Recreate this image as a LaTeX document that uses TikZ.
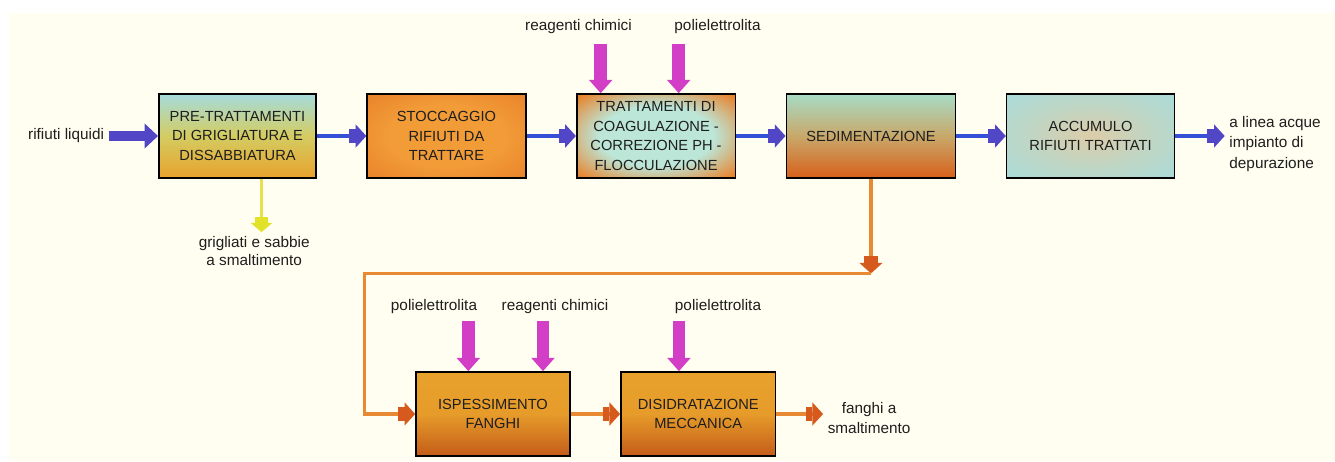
\documentclass[tikz,border=0pt]{standalone}
\usepackage{fontspec}
\setmainfont{Liberation Sans}
\usetikzlibrary{arrows.meta, positioning, calc}
\definecolor{PlantCream}{HTML}{FFFEF0}
\definecolor{PlantInk}{HTML}{1E1E1E}
\definecolor{PlantBlue}{HTML}{3350D6}
\definecolor{PlantBlueHead}{HTML}{5046C6}
\definecolor{PlantOrange}{HTML}{E88A34}
\definecolor{PlantRust}{HTML}{D65A1E}
\definecolor{PlantYellow}{HTML}{E4E050}
\definecolor{PlantYellowHead}{HTML}{E2E22A}
\definecolor{PlantMagenta}{HTML}{D23FC6}
\definecolor{PlantCyan}{HTML}{A6DCDC}
\definecolor{PlantPale}{HTML}{BCE6D8}
\definecolor{PlantMint}{HTML}{A8DCC6}
\definecolor{PlantTan}{HTML}{C8A86A}
\definecolor{PlantLime}{HTML}{D4CC62}
\definecolor{PlantGold}{HTML}{E8A22C}
\definecolor{PlantAmber}{HTML}{F29C38}
\definecolor{PlantTangerine}{HTML}{E9822A}
\definecolor{PlantBrick}{HTML}{D8601A}
\definecolor{PlantEmber}{HTML}{C95216}
\definecolor{PlantPeach}{HTML}{DCCCA8}
\definecolor{PlantSeafoam}{HTML}{C0D6C4}
\definecolor{PlantSienna}{HTML}{C45C1A}
\pgfdeclareradialshading{storeshade}{\pgfpointorigin}{color(0bp)=(PlantAmber); color(18bp)=(PlantAmber); color(36bp)=(PlantTangerine); color(48bp)=(PlantEmber); color(50bp)=(PlantEmber)}
\pgfdeclareradialshading{coagshade}{\pgfpointorigin}{color(0bp)=(PlantPale); color(18bp)=(PlantPale); color(34bp)=(PlantTangerine); color(46bp)=(PlantBrick); color(50bp)=(PlantBrick)}
\pgfdeclareradialshading{accumshade}{\pgfpointorigin}{color(0bp)=(PlantPeach); color(18bp)=(PlantSeafoam); color(38bp)=(PlantCyan); color(50bp)=(PlantCyan)}
\tikzset{
    % Base process box
    stage/.style={
        rectangle,
        draw=black,
        line width=1.2pt,
        minimum height=63pt,
        align=center,
        text=PlantInk,
        font=\fontsize{11}{14.6}\selectfont
    },
    % Pre-treatment box
    pretreat/.style={stage, top color=PlantCyan, bottom color=PlantGold, middle color=PlantLime},
    % Storage box
    storage/.style={stage, shade, shading=storeshade},
    % Coagulation box
    coagulate/.style={stage, shade, shading=coagshade},
    % Settling box
    settle/.style={stage, top color=PlantMint, bottom color=PlantBrick, middle color=PlantTan},
    % Treated waste box
    accum/.style={stage, shade, shading=accumshade},
    % Sludge box
    sludge/.style={stage, top color=PlantGold, bottom color=PlantSienna, middle color=PlantGold!90!PlantBrick},
    % Free text
    note/.style={
        align=center,
        text=PlantInk,
        font=\fontsize{11.5}{15.5}\selectfont
    },
    % Water flow
    flow/.style={
        line width=2.5pt,
        draw=PlantBlue,
        -{Rectangle[length=5pt,width=11pt,sep=0pt,color=PlantBlueHead]Triangle[length=8pt,width=17pt,color=PlantBlueHead]}
    },
    % Sludge flow
    sludgeflow/.style={
        line width=2.5pt,
        draw=PlantOrange,
        -{Rectangle[length=5pt,width=11pt,sep=0pt,color=PlantRust]Triangle[length=8pt,width=17pt,color=PlantRust]}
    },
    % Screenings out
    waste/.style={
        line width=2.5pt,
        draw=PlantYellow,
        -{Rectangle[length=4pt,width=10pt,sep=0pt,color=PlantYellowHead]Triangle[length=7pt,width=16pt,color=PlantYellowHead]}
    },
    % Fat inlet arrow
    feed/.style={
        line width=8pt,
        draw=PlantBlueHead,
        -{Triangle[length=10pt,width=18pt]}
    },
    % Chemical dosing
    dose/.style={
        line width=9.5pt,
        draw=PlantMagenta,
        -{Triangle[length=10pt,width=17pt]}
    }
}

\begin{document}
\begin{tikzpicture}[x=0.75pt, y=-0.75pt, node distance=37pt]
    \useasboundingbox (0,0) rectangle (1335,461);
    \fill [PlantCream] (9,13) rectangle (1335,461);

    % Water line
    \node (pre) [pretreat, minimum width=118pt] at (237.5,136) {PRE-TRATTAMENTI\\DI GRIGLIATURA E\\DISSABBIATURA};
    \node (store) [storage, minimum width=119pt, right=of pre] {STOCCAGGIO\\RIFIUTI DA\\TRATTARE};
    \node (coag) [coagulate, minimum width=119pt, right=of store] {TRATTAMENTI DI\\COAGULAZIONE -\\CORREZIONE PH -\\FLOCCULAZIONE};
    \node (sedi) [settle, minimum width=127pt, right=of coag] {SEDIMENTAZIONE};
    \node (accu) [accum, minimum width=126pt, right=of sedi] {ACCUMULO\\RIFIUTI TRATTATI};

    \node (inlet) [note, left=of pre] {rifiuti liquidi};
    \node (outlet) [note, align=left, right=of accu, yshift=-6pt] {a linea acque\\impianto di\\depurazione};
    \node (grit) [note, font=\fontsize{11.5}{13}\selectfont, below=40pt of pre, xshift=12.5pt] {grigliati e sabbie\\a smaltimento};

    \draw [feed] (inlet) -- (pre);
    \draw [flow] (pre) -- (store);
    \draw [flow] (store) -- (coag);
    \draw [flow] (coag) -- (sedi);
    \draw [flow] (sedi) -- (accu);
    \draw [flow] (accu.east) -- (accu.east -| outlet.west);

    \coordinate (gtop) at ([xshift=18pt]pre.south);
    \draw [waste] (gtop) -- (gtop |- grit.north);

    % Sludge line
    \node (thick) [sludge, minimum width=115.5pt] at (493,414) {ISPESSIMENTO\\FANGHI};
    \node (dewat) [sludge, minimum width=116pt, right=of thick] {DISIDRATAZIONE\\MECCANICA};
    \node (cake) [note, right=35pt of dewat, yshift=-3pt] {fanghi a\\smaltimento};

    \coordinate (jn) at ([yshift=-71pt]sedi.south);
    \draw [sludgeflow] (sedi) -- (jn);
    \draw [sludgeflow] (jn) -| ([xshift=-38pt]thick.west) -- (thick.west);
    \draw [sludgeflow] (thick) -- (dewat);
    \draw [sludgeflow] (dewat.east) -- (dewat.east -| cake.west);

    % Chemicals
    \node (rc1) [note] at (578.5,27) {reagenti chimici};
    \node (pe1) [note] at (717.5,27) {polielettrolita};
    \node (pe2) [note] at (434,307) {polielettrolita};
    \node (rc2) [note] at (555,307) {reagenti chimici};
    \node (pe3) [note] at (718,307) {polielettrolita};

    \coordinate (d1) at ([xshift=-41.5pt,yshift=37pt]coag.north);
    \coordinate (d2) at ([xshift=17pt,yshift=37pt]coag.north);
    \coordinate (d3) at ([xshift=-18.5pt,yshift=38pt]thick.north);
    \coordinate (d4) at ([xshift=37.5pt,yshift=38pt]thick.north);
    \coordinate (d5) at ([xshift=-14.5pt,yshift=38pt]dewat.north);
    \draw [dose] (d1) -- (d1 |- coag.north);
    \draw [dose] (d2) -- (d2 |- coag.north);
    \draw [dose] (d3) -- (d3 |- thick.north);
    \draw [dose] (d4) -- (d4 |- thick.north);
    \draw [dose] (d5) -- (d5 |- dewat.north);
\end{tikzpicture}
\end{document}
